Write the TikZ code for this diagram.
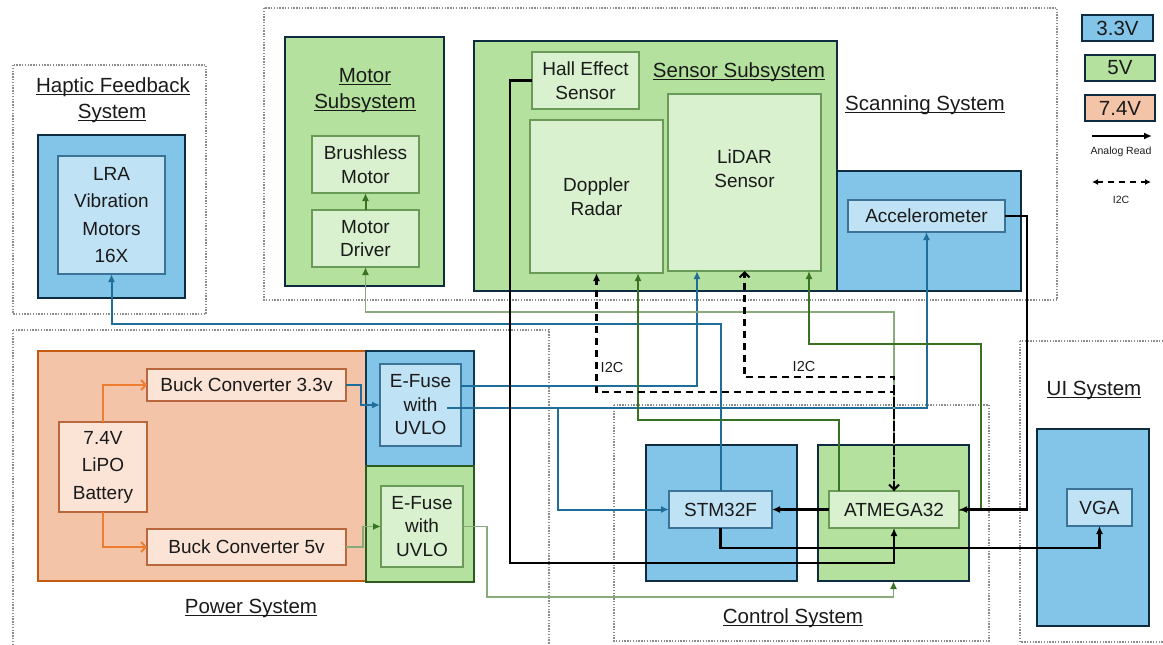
\documentclass[tikz,border=0pt]{standalone}
\usepackage{fontspec}
\setmainfont{Liberation Sans}
\usetikzlibrary{arrows.meta}
\definecolor{obl}{HTML}{83C5E8}
\definecolor{ibl}{HTML}{C0E2F5}
\definecolor{ogr}{HTML}{B4E29E}
\definecolor{igr}{HTML}{D9F1CE}
\definecolor{oor}{HTML}{F4C4A9}
\definecolor{ior}{HTML}{FBE3D6}
\definecolor{navy}{HTML}{0E2B3F}
\definecolor{ibd}{HTML}{3B7296}
\definecolor{igd}{HTML}{6A9A58}
\definecolor{iod}{HTML}{B8683C}
\definecolor{ord}{HTML}{C55A11}
\definecolor{dgb}{HTML}{2C5A1E}
\definecolor{wbl}{HTML}{1F6E99}
\definecolor{wdg}{HTML}{3A7224}
\definecolor{wlg}{HTML}{89AB7C}
\definecolor{wor}{HTML}{ED7D31}
\definecolor{txt}{HTML}{1A1A1A}
\definecolor{dotc}{HTML}{8C8C8C}
\newcommand\bxf{\fontsize{19}{23.5}\selectfont}
\newcommand\bxw{\fontsize{19}{27.5}\selectfont}
\newcommand\ttlf{\fontsize{20.5}{24}\selectfont}
\newcommand\lgdf{\fontsize{20.5}{24}\selectfont}
\newcommand\smf{\fontsize{10.5}{12}\selectfont}
\newcommand\ltf{\fontsize{14.5}{16}\selectfont}
\begin{document}
\begin{tikzpicture}[x=1pt,y=-1pt,
  sz/.style 2 args={minimum width=#1pt, minimum height=#2pt},
  obox/.style={line width=2.2pt, inner sep=0pt, outer sep=0pt},
  ob/.style={obox, draw=navy, fill=obl},
  og/.style={obox, draw=navy, fill=ogr},
  ibox/.style={line width=1.3pt, inner sep=0pt, outer sep=0pt, align=center, font=\bxf, text=txt},
  ib/.style={ibox, draw=ibd, fill=ibl},
  ig/.style={ibox, draw=igd, fill=igr},
  io/.style={ibox, draw=iod, fill=ior},
  frame/.style={draw=dotc, line width=1.2pt, dash pattern=on 1.4pt off 1.4pt},
  ttl/.style={font=\ttlf, inner sep=0pt, anchor=base, text=txt},
  ul/.style={draw=txt, line width=1pt},
  lbl/.style={font=\ltf, inner sep=0pt, text=txt},
  tip/.style={-{Latex[length=8pt,width=7pt]}},
  bw/.style={draw=wbl, line width=2pt, tip},
  dgw/.style={draw=wdg, line width=2pt, tip},
  lgw/.style={draw=wlg, line width=1.7pt, -{Latex[length=8pt,width=7pt,color=wdg]}},
  bk/.style={draw=black, line width=2.1pt, tip},
  ow/.style={draw=wor, line width=2pt, -{Straight Barb[length=4.5pt,width=10pt]}},
  i2c/.style={draw=black, line width=2.1pt, dash pattern=on 7pt off 5pt}
]
\useasboundingbox (0,0) rectangle (1163,645);

% system frames
\draw[frame] (13,65) rectangle (206,314);
\draw[frame] (264,8) rectangle (1057,300);
\draw[frame] (13,330) rectangle (549,650);
\draw[frame] (614,405) rectangle (989,641);
\draw[frame] (1020,341) rectangle (1170,642);

% outer boxes
\node[ob, sz={147}{163}] (hapout) at (111.5,216.5) {};
\node[og, sz={159}{249}] (motout) at (364.5,161.5) {};
\node[ob, sz={184}{120}] (accout) at (929,231) {};
\node[og, sz={363}{250}] (sensout) at (655.5,166) {};
\node[obox, draw=ord, fill=oor, sz={328}{230}] (orng) at (202,466) {};
\node[obox, draw=navy!80!wbl, fill=obl, sz={108}{115}] (ef33out) at (420,408.5) {};
\node[obox, draw=dgb, fill=ogr, sz={108}{116}] (ef5out) at (420,524) {};
\node[ob, sz={151}{136}] (stmout) at (721.5,513) {};
\node[og, sz={151}{136}] (atmout) at (893.5,513) {};
\node[ob, sz={112}{197}] (vgaout) at (1093,527.5) {};

% titles
\node[ttl] (hap1) at (113,92) {Haptic Feedback\ };
\node[ttl] (hap2) at (112,118) {System};
\node[ttl] (mot1) at (365,82) {Motor};
\node[ttl] (mot2) at (365,108) {Subsystem};
\node[ttl] (sens) at (739,77) {Sensor Subsystem};
\node[ttl] (scan) at (925,110) {Scanning System};
\node[ttl] (pow) at (251,613) {Power System};
\node[ttl] (ctl) at (793,623) {Control System};
\node[ttl] (uis) at (1094,395) {UI System};
\foreach \t in {hap1,hap2,mot1,mot2,sens,scan,pow,ctl,uis}
  \draw[ul] ([yshift=-2.5pt]\t.base west) -- ([yshift=-2.5pt]\t.base east);

% inner boxes
\node[ib, font=\bxw, sz={107}{118}] (lra) at (111.5,215) {LRA\\Vibration\\Motors\\16X};
\node[ig, sz={107}{57}] (brush) at (365.5,164.5) {Brushless\\Motor};
\node[ig, sz={107}{57}] (mdrv) at (365.5,238.5) {Motor\\Driver};
\node[ig, sz={107}{57}] (hall) at (585.5,80.5) {Hall Effect\\Sensor};
\node[ig, sz={133}{153}] (doppler) at (596.5,196.5) {Doppler\\Radar};
\node[ig, sz={153}{177}] (lidar) at (744.5,182.5) {};
\node[ibox, fill=none, draw=none] (lidartxt) at (744.5,168.5) {LiDAR\\Sensor};
\node[ib, sz={157}{32}] (acc) at (926.5,216) {Accelerometer};
\node[io, sz={199}{32}] (buck33) at (246.5,385) {Buck Converter 3.3v};
\node[io, sz={199}{36}] (buck5) at (246.5,547) {Buck Converter 5v};
\node[io, font=\bxw, sz={88}{90}] (batt) at (103,467) {7.4V\\LiPO\\Battery};
\node[ib, sz={81}{82}] (ef33) at (420.5,405) {E-Fuse\\with\\UVLO};
\node[ig, sz={82}{81}] (ef5) at (422,526.5) {E-Fuse\\with\\UVLO};
\node[ib, sz={103}{37}] (stm) at (720.5,509.5) {STM32F};
\node[ig, sz={130}{37}] (atm) at (894,509.5) {ATMEGA32};
\node[ib, sz={65}{37}] (vga) at (1099.5,507.5) {VGA};

% legend
\node[ob, line width=2pt, font=\lgdf, text=txt, sz={71}{26}] (l33) at (1117.5,28) {3.3V};
\node[og, line width=2pt, font=\lgdf, text=txt, sz={70}{26}] (l5) at (1120,68) {5V};
\node[obox, line width=2pt, draw=navy, fill=oor, font=\lgdf, text=txt, sz={70}{26}] (l74) at (1120,108) {7.4V};
\coordinate (la1) at (1092,136);
\coordinate (la2) at (1152,136);
\draw[bk] (la1) -- (la2);
\node[font=\smf, text=txt, inner sep=0pt] (lgA) at (1121,152) {Analog Read};
\coordinate (lb1) at (1092,182);
\coordinate (lb2) at (1151,182);
\draw[draw=black, line width=1.8pt, dash pattern=on 6pt off 5pt, {Latex[length=6pt,width=6pt]}-{Latex[length=6pt,width=6pt]}] (lb1) -- (lb2);
\node[font=\smf, text=txt, inner sep=0pt] (lgB) at (1121,200) {I2C};

% connectors
\draw[dgw] (mdrv.north) -- (brush.south);
\draw[ow] (batt.north) |- (buck33.west);
\draw[ow] (batt.south) |- (buck5.west);
\draw[bw] (buck33.east) -- ++(15,0) |- (ef33.west);
\draw[lgw] (buck5.east) -- ++(17,0) |- (ef5.west);
\draw[bw] ([yshift=19pt]ef33.east) -| ([xshift=-47.5pt]lidar.south);
\draw[bw] ([xshift=-14pt,yshift=-3pt]ef33.east) -| (acc.south);
\coordinate (jb) at (558,408);
\draw[bw] (jb) |- (stm.west);
\draw[bw] (stm.north) -- ++(0,-167) -| (lra.south);
\draw[lgw] (atm.north) -- ++(0,-179) -| (mdrv.south);
\draw[lgw] (ef5.east) -- ++(24,0) -- ++(0,70.5) -| (atmout.south);
\draw[dgw] ([xshift=-55pt]atm.north) -- ++(0,-71) -| ([xshift=41.5pt]doppler.south);
\draw[dgw] (atm.east) -- ++(22,0) -- ++(0,-165.5) -| ([xshift=64.5pt]lidar.south);
\draw[bk] (atm.west) -- (stm.east);
\draw[bk] (stm.south) -- ++(0,20) -| (vga.south);
\draw[bk] (hall.west) -| ++(-22,482.5) -| (atm.south);
\draw[bk] (acc.east) -- ++(22,0) |- (atm.east);
\draw[i2c, -{Latex[length=8pt,width=7pt]}] (atm.north) -- ++(0,-99) -| (doppler.south);
\draw[i2c, {Straight Barb[length=5pt,width=10pt]}-{Straight Barb[length=5pt,width=10pt]}] (atm.north) -- ++(0,-114) -| (lidar.south);
\node[lbl] (i2ca) at (612,368) {I2C};
\node[lbl] (i2cb) at (804,367) {I2C};
\end{tikzpicture}
\end{document}
